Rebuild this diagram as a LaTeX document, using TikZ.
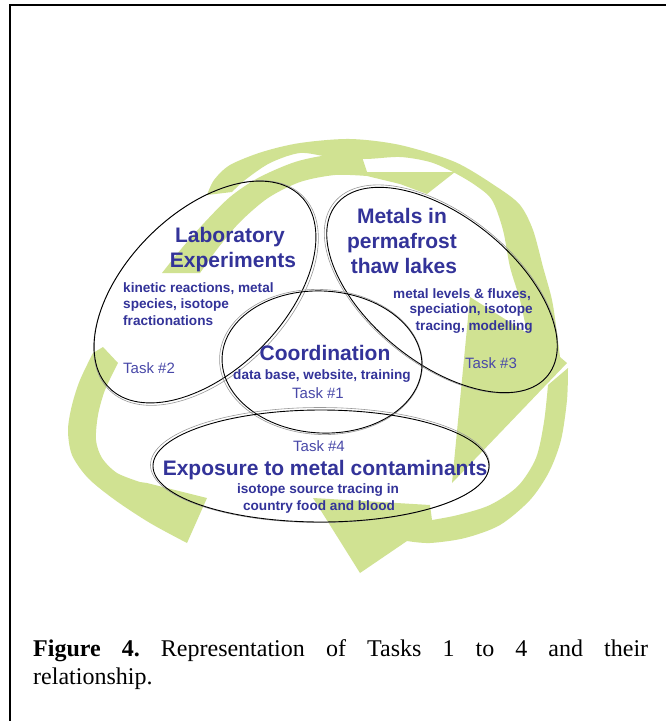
\documentclass[tikz,border=0pt]{standalone}
\usepackage{fontspec}
\setmainfont{Liberation Serif}
\newfontfamily\arialf{Liberation Sans}
\definecolor{arrowgreen}{RGB}{208,226,146}
\definecolor{taskblue}{RGB}{51,51,153}
\definecolor{tasklight}{RGB}{72,72,168}
\frenchspacing
\begin{document}
\begin{tikzpicture}[x=1pt,y=-1pt,
  greenband/.style={fill=arrowgreen},
  taskellipse/.style={draw=black,line width=0.9pt},
  ghostline/.style={draw=black!40,line width=0.6pt},
  bigtxt/.style={font=\arialf\bfseries\fontsize{21}{24}\selectfont,text=taskblue,inner sep=0pt},
  smalltxt/.style={font=\arialf\bfseries\fontsize{13.6}{16.5}\selectfont,text=taskblue,inner sep=0pt},
  tasktxt/.style={font=\arialf\fontsize{15}{18}\selectfont,text=tasklight,inner sep=0pt}]
\useasboundingbox (0,0) rectangle (666,721);
\fill[white] (0,0) rectangle (666,721);
% frame
\draw[line width=1.2pt] (10,721) -- (10,5) -- (666,5);

% green arrows
\fill[greenband] plot[smooth] coordinates {(207,195) (214,180) (230,165) (262,152) (300,143) (350,139) (400,145) (455,162) (497,187) (520,205) (533,230) (543,267) (552,300) (557,333) (560,357)}
 -- (567,363) -- (452,483) -- (470,297) -- (527,333)
 -- plot[smooth] coordinates {(527,333) (520,300) (510,267) (503,230) (492,200) (475,185) (453,172) (430,162) (400,157) (365,159) (330,157) (300,153) (270,163) (245,180) (232,192)} -- cycle;

\fill[greenband] plot[smooth] coordinates {(162,273) (182,248) (205,222) (230,197) (258,178) (295,162) (330,155) (362,157)}
 -- (367,172) -- (455,172) -- (427,194) -- (400,184)
 -- plot[smooth] coordinates {(367,176) (335,175) (300,182) (268,198) (240,222) (218,248) (200,273)} -- cycle;

\fill[greenband] plot[smooth] coordinates {(568,368) (567,400) (561,440) (549,472) (530,500) (500,525) (465,538) (430,543) (407,541)}
 -- (360,573) -- (313,498) -- (430,505)
 -- plot[smooth] coordinates {(432,520) (458,515) (490,505) (518,486) (536,458) (544,422) (548,385)} -- cycle;

\fill[greenband] (103,347) -- (118,363)
 -- plot[smooth] coordinates {(118,363) (105,390) (98,415) (96,440) (102,458) (117,473) (140,482)}
 -- (147,483) -- (207,498) -- (187,543)
 -- plot[smooth] coordinates {(187,543) (150,523) (115,500) (88,478) (72,455) (68,430) (72,405) (80,380) (93,353)} -- cycle;

% ellipses
\draw[ghostline, rotate around={45:(206,293)}] (206,293) ellipse [x radius=137pt, y radius=80.5pt];
\draw[taskellipse, rotate around={45:(205,292)}] (205,292) ellipse [x radius=135.5pt, y radius=79pt];
\draw[ghostline, rotate around={-39:(441,289)}] (441,289) ellipse [x radius=137.5pt, y radius=74.5pt];
\draw[taskellipse, rotate around={-39:(442,290)}] (442,290) ellipse [x radius=136pt, y radius=73pt];
\draw[ghostline, rotate around={-3:(321,362)}] (321,362) ellipse [x radius=101.5pt, y radius=72.5pt];
\draw[taskellipse, rotate around={-3:(322,362)}] (322,362) ellipse [x radius=100pt, y radius=71pt];
\draw[ghostline] (320,465) ellipse [x radius=169.5pt, y radius=57.5pt];
\draw[taskellipse] (321,466) ellipse [x radius=168pt, y radius=56pt];

% texts
\node[bigtxt, anchor=base] (lab1) at (230,242) {Laboratory};
\node[bigtxt, anchor=base] (lab2) at (233,267) {Experiments};
\node[smalltxt, anchor=base west] (lab3) at (123,292) {kinetic reactions, metal};
\node[smalltxt, anchor=base west] (lab4) at (123,308) {species, isotope};
\node[smalltxt, anchor=base west] (lab5) at (123,325) {fractionations};
\node[tasktxt, anchor=base west] (task2) at (123,373) {Task \#2};

\node[bigtxt, anchor=base] (met1) at (402,223) {Metals in};
\node[bigtxt, anchor=base] (met2) at (402,248) {permafrost};
\node[bigtxt, anchor=base] (met3) at (404,273) {thaw lakes};
\node[smalltxt, anchor=base east] (met4) at (531,298) {metal levels \& fluxes,};
\node[smalltxt, anchor=base east] (met5) at (533,313) {speciation, isotope};
\node[smalltxt, anchor=base east] (met6) at (533,330) {tracing, modelling};
\node[tasktxt, anchor=base west] (task3) at (465,368) {Task \#3};

\node[bigtxt, anchor=base] (coo1) at (325,360) {Coordination};
\node[smalltxt, anchor=base] (coo2) at (322,379) {data base, website, training};
\node[tasktxt, anchor=base] (task1) at (318,398) {Task \#1};

\node[tasktxt, anchor=base] (task4) at (319,451) {Task \#4};
\node[bigtxt, anchor=base] (exp1) at (325,475) {Exposure to metal contaminants};
\node[smalltxt, anchor=base] (exp2) at (318,493) {isotope source tracing in};
\node[smalltxt, anchor=base] (exp3) at (319,510) {country food and blood};

% caption
\node[anchor=north west, inner sep=0pt, text width=615pt, align=justify,
      font=\fontsize{24}{28}\selectfont] (caption) at (33,639.5)
  {\textbf{Figure 4.} Representation of Tasks 1 to 4 and their\linebreak relationship.};
\end{tikzpicture}
\end{document}
